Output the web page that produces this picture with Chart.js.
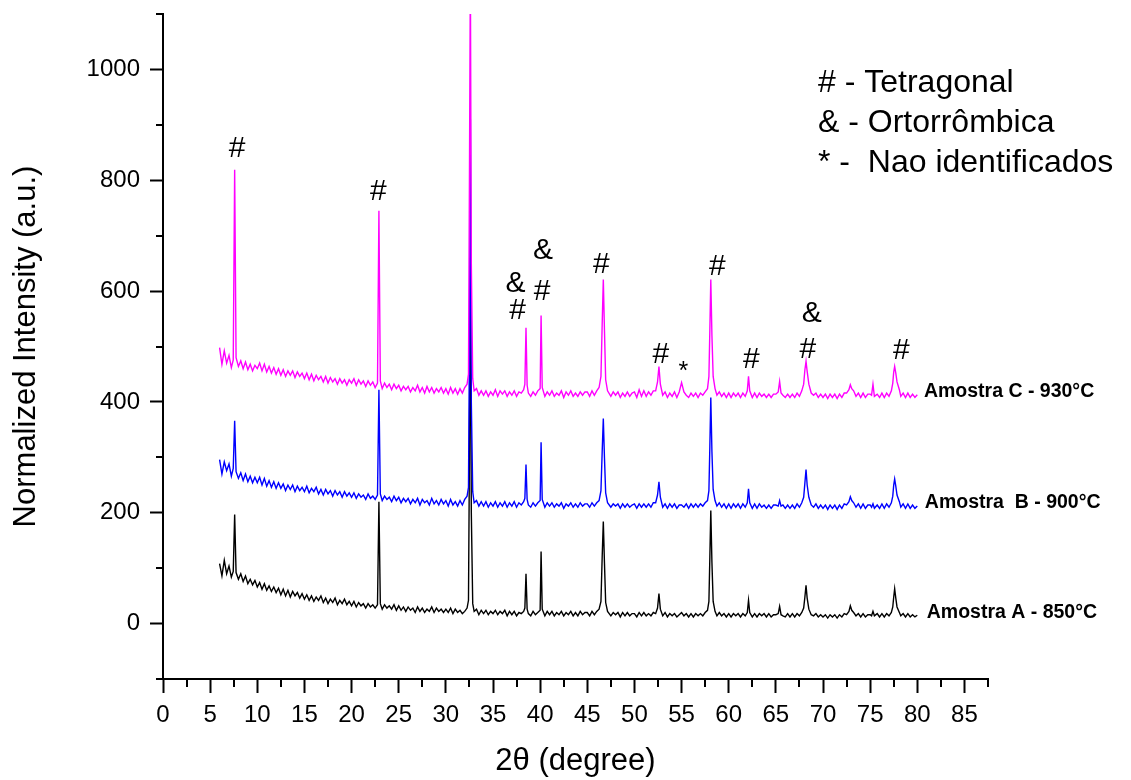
<!DOCTYPE html>
<html>
<head>
<meta charset="utf-8">
<script src="https://cdn.jsdelivr.net/npm/chart.js@4.4.1/dist/chart.umd.min.js"></script>
<style>
  body { margin: 0; background: #fff; }
</style>
</head>
<body>
<canvas id="xrd" width="1131" height="780"></canvas>
<script>
// 2theta positions shared by the three patterns (one row per 5 degrees)
const theta = [
  6.0, 6.25, 6.5, 6.75, 7.0, 7.25, 7.45, 7.6, 7.75, 8.0, 8.25, 8.5, 8.75, 9.0, 9.25, 9.5, 9.75,
  10, 10.25, 10.5, 10.75, 11, 11.25, 11.5, 11.75, 12, 12.25, 12.5, 12.75, 13, 13.25, 13.5, 13.75, 14, 14.25, 14.5, 14.75,
  15, 15.25, 15.5, 15.75, 16, 16.25, 16.5, 16.75, 17, 17.25, 17.5, 17.75, 18, 18.25, 18.5, 18.75, 19, 19.25, 19.5, 19.75,
  20, 20.25, 20.5, 20.75, 21, 21.25, 21.5, 21.75, 22, 22.25, 22.5, 22.75, 22.9, 23.05, 23.25, 23.5, 23.75, 24, 24.25, 24.5, 24.75,
  25, 25.25, 25.5, 25.75, 26, 26.25, 26.5, 26.75, 27, 27.25, 27.5, 27.75, 28, 28.25, 28.5, 28.75, 29, 29.25, 29.5, 29.75,
  30, 30.25, 30.5, 30.75, 31, 31.25, 31.5, 31.75, 32, 32.25, 32.4, 32.5, 32.6, 32.7, 32.85, 33, 33.25, 33.5, 33.75, 34, 34.25, 34.5, 34.75,
  35, 35.25, 35.5, 35.75, 36, 36.25, 36.5, 36.75, 37, 37.25, 37.5, 37.75, 38, 38.25, 38.38, 38.5, 38.62, 38.75, 39, 39.25, 39.5, 39.75,
  40, 40.1, 40.22, 40.5, 40.75, 41, 41.25, 41.5, 41.75, 42, 42.25, 42.5, 42.75, 43, 43.25, 43.5, 43.75, 44, 44.25, 44.5, 44.75,
  45, 45.25, 45.5, 45.75, 46, 46.25, 46.45, 46.58, 46.7, 46.82, 46.95, 47.15, 47.5, 47.75, 48, 48.25, 48.5, 48.75, 49, 49.25, 49.5, 49.75,
  50, 50.25, 50.5, 50.75, 51, 51.25, 51.5, 51.75, 52, 52.25, 52.45, 52.6, 52.75, 53, 53.25, 53.5, 53.75, 54, 54.25, 54.5, 54.75,
  55, 55.25, 55.5, 55.75, 56, 56.25, 56.5, 56.75, 57, 57.25, 57.5, 57.75, 57.9, 58.0, 58.1, 58.22, 58.35, 58.55, 58.75, 59, 59.25, 59.5, 59.75,
  60, 60.25, 60.5, 60.75, 61, 61.25, 61.5, 61.75, 61.97, 62.1, 62.23, 62.5, 62.75, 63, 63.25, 63.5, 63.75, 64, 64.25, 64.5, 64.75,
  65, 65.25, 65.4, 65.55, 65.75, 66, 66.25, 66.5, 66.75, 67, 67.25, 67.5, 67.75, 67.95, 68.08, 68.2, 68.32, 68.5, 68.75, 69, 69.25, 69.5, 69.75,
  70, 70.25, 70.5, 70.75, 71, 71.25, 71.5, 71.75, 72, 72.25, 72.5, 72.75, 72.9, 73.05, 73.25, 73.5, 73.75, 74, 74.25, 74.5, 74.75,
  75, 75.15, 75.3, 75.45, 75.75, 76, 76.25, 76.5, 76.75, 77, 77.25, 77.4, 77.5, 77.6, 77.72, 77.85, 78.1, 78.25, 78.5, 78.75, 79, 79.25, 79.5, 79.75, 80,
];

// Amostra A - 850°C (black)
const amostraA = [
  108, 86, 114, 90, 104, 84, 94, 197, 92, 80, 90, 76, 86, 72, 80, 70, 78,
  66, 74, 62, 72, 60, 68, 58, 66, 56, 64, 52, 62, 50, 60, 48, 58, 50, 56, 46, 54,
  44, 52, 42, 50, 40, 48, 42, 50, 38, 46, 36, 44, 38, 46, 34, 42, 36, 44, 34, 40,
  32, 40, 30, 38, 32, 36, 28, 36, 30, 34, 28, 34, 220, 36, 26, 34, 28, 32, 26, 34, 24,
  32, 24, 30, 22, 30, 24, 28, 20, 30, 22, 28, 20, 26, 22, 30, 20, 28, 22, 26, 20,
  26, 20, 28, 18, 26, 20, 24, 18, 22, 28, 42, 300, 660, 200, 36, 22, 26, 16, 24, 18, 24, 16, 22,
  18, 24, 16, 22, 18, 24, 14, 22, 16, 22, 14, 20, 18, 22, 28, 90, 26, 18, 14, 22, 16, 20,
  24, 130, 26, 14, 22, 16, 22, 14, 20, 16, 22, 14, 20, 16, 22, 14, 20, 14, 22, 16, 20,
  20, 14, 22, 16, 22, 26, 40, 120, 184, 110, 38, 22, 14, 20, 16, 20, 12, 20, 14, 20, 14, 18,
  18, 12, 20, 14, 20, 14, 18, 14, 20, 18, 28, 54, 26, 14, 20, 12, 18, 14, 18, 12, 16,
  20, 14, 18, 12, 18, 12, 18, 14, 18, 14, 20, 24, 40, 120, 204, 110, 40, 22, 14, 20, 14, 18, 12,
  18, 12, 18, 14, 18, 12, 18, 14, 20, 42, 20, 12, 18, 12, 18, 14, 18, 12, 18, 12, 16,
  16, 18, 31, 16, 14, 12, 18, 12, 18, 12, 18, 14, 20, 28, 48, 69, 46, 26, 16, 14, 18, 12, 16,
  12, 16, 10, 16, 12, 16, 10, 16, 12, 18, 16, 22, 32, 24, 20, 14, 18, 12, 18, 12, 16,
  16, 14, 22, 14, 18, 12, 18, 12, 18, 14, 20, 30, 48, 63, 46, 30, 20, 14, 18, 12, 18, 12, 16, 12, 15,
];

// Amostra B - 900°C (blue)
const amostraB = [
  296, 270, 292, 276, 288, 266, 280, 366, 274, 262, 272, 258, 270, 256, 266, 254, 264,
  254, 264, 250, 262, 248, 258, 246, 256, 244, 254, 244, 252, 240, 250, 242, 250, 238, 248, 240, 246,
  238, 248, 236, 244, 238, 246, 234, 242, 232, 242, 234, 240, 230, 240, 232, 238, 228, 238, 230, 236,
  228, 236, 226, 234, 228, 232, 224, 234, 226, 230, 224, 232, 422, 234, 222, 230, 224, 228, 220, 230, 222,
  228, 218, 226, 220, 226, 216, 224, 218, 226, 214, 224, 218, 222, 214, 226, 216, 222, 214, 224, 216,
  222, 212, 224, 214, 220, 212, 222, 214, 224, 230, 246, 500, 910, 400, 238, 218, 222, 212, 220, 212, 220, 210, 218,
  212, 220, 210, 218, 212, 220, 210, 218, 212, 220, 210, 218, 214, 220, 226, 287, 224, 214, 210, 218, 212, 218,
  222, 327, 224, 210, 218, 212, 218, 210, 216, 212, 218, 208, 216, 212, 218, 210, 216, 210, 218, 212, 216,
  216, 210, 218, 212, 218, 222, 240, 310, 370, 300, 236, 218, 210, 216, 212, 216, 208, 216, 210, 216, 210, 214,
  216, 208, 216, 210, 216, 210, 216, 210, 218, 218, 232, 256, 228, 210, 216, 208, 216, 210, 216, 208, 214,
  214, 210, 216, 208, 216, 210, 216, 210, 216, 212, 218, 222, 240, 320, 408, 310, 242, 222, 212, 218, 210, 216, 208,
  216, 208, 216, 210, 216, 208, 216, 210, 218, 243, 218, 208, 216, 208, 216, 210, 214, 208, 214, 208, 214,
  214, 212, 222, 212, 214, 208, 214, 208, 214, 208, 216, 210, 218, 228, 254, 278, 250, 228, 214, 210, 216, 208, 214,
  208, 214, 206, 214, 208, 214, 206, 214, 208, 216, 214, 220, 229, 222, 218, 210, 216, 208, 216, 208, 214,
  214, 210, 216, 208, 214, 208, 216, 208, 216, 210, 218, 230, 250, 261, 248, 232, 220, 210, 216, 208, 216, 208, 214, 208, 212,
];

// Amostra C - 930°C (magenta)
const amostraC = [
  498, 468, 492, 470, 484, 462, 476, 819, 480, 464, 474, 460, 472, 458, 468, 456, 466,
  460, 470, 456, 468, 454, 464, 452, 462, 450, 460, 448, 458, 446, 456, 448, 456, 444, 454, 446, 452,
  442, 452, 440, 450, 438, 448, 440, 446, 436, 446, 434, 444, 436, 442, 432, 442, 434, 440, 430, 440,
  434, 442, 430, 440, 432, 438, 428, 438, 430, 436, 426, 434, 745, 438, 424, 434, 426, 432, 422, 432, 424,
  430, 420, 428, 422, 428, 418, 426, 420, 430, 418, 426, 416, 428, 418, 426, 416, 424, 418, 426, 416,
  424, 414, 426, 416, 424, 414, 424, 416, 426, 432, 450, 800, 1180, 650, 442, 420, 424, 412, 420, 412, 420, 410, 418,
  412, 422, 410, 420, 414, 420, 410, 418, 412, 420, 410, 418, 416, 422, 432, 534, 430, 416, 410, 418, 412, 420,
  424, 556, 426, 410, 418, 412, 420, 410, 416, 412, 420, 408, 418, 412, 420, 410, 416, 410, 418, 412, 418,
  418, 410, 420, 412, 420, 426, 446, 540, 621, 530, 440, 420, 410, 418, 412, 418, 408, 416, 410, 418, 410, 416,
  418, 408, 422, 410, 420, 410, 418, 412, 420, 420, 436, 464, 432, 412, 418, 408, 416, 410, 418, 408, 418,
  435, 418, 412, 408, 416, 410, 416, 408, 416, 412, 418, 424, 446, 530, 621, 520, 446, 424, 412, 418, 410, 416, 408,
  416, 408, 416, 410, 416, 408, 416, 410, 420, 446, 420, 408, 416, 408, 416, 410, 414, 408, 414, 408, 414,
  414, 418, 437, 416, 412, 408, 414, 408, 414, 408, 416, 410, 420, 432, 458, 473, 455, 432, 416, 412, 416, 408, 414,
  408, 414, 406, 414, 408, 414, 406, 414, 408, 416, 416, 422, 431, 424, 420, 410, 416, 408, 416, 408, 414,
  414, 412, 432, 410, 414, 408, 416, 408, 416, 410, 420, 434, 454, 464, 452, 436, 422, 410, 416, 408, 416, 408, 414, 408, 413,
];

const seriesNames = ['Amostra A - 850°C', 'Amostra  B - 900°C', 'Amostra C - 930°C'];
const seriesLabelTheta = [81, 80.8, 80.7];
const seriesLabelLevel = [20, 218, 419];

const xTicks = [0, 5, 10, 15, 20, 25, 30, 35, 40, 45, 50, 55, 60, 65, 70, 75, 80, 85];
const yTicks = [0, 200, 400, 600, 800, 1000];

// phase marks above the peaks of Amostra C
const markText = ['#', '#', '&', '#', '&', '#', '#', '#', '*', '#', '#', '&', '#', '#'];
const markTheta = [7.85, 22.85, 37.4, 37.6, 40.3, 40.2, 46.5, 52.8, 55.2, 58.8, 62.4, 68.8, 68.4, 78.3];
const markLevel = [857, 779, 614, 565, 672, 599, 648, 486, 464, 644, 476, 559, 495, 492];

const legendLines = ['# - Tetragonal', '& - Ortorrômbica', '* -  Nao identificados'];

[amostraA, amostraB, amostraC].forEach((s, i) => {
  if (s.length !== theta.length) throw new Error('series ' + i + ' has ' + s.length + ' values, theta has ' + theta.length);
});

const pairs = (ys) => theta.map((t, i) => ({ x: t, y: ys[i] }));
const font = 'Liberation Sans, Arial, sans-serif';

const annotate = {
  id: 'annotate',
  afterDraw(chart) {
    const { ctx, chartArea } = chart;
    const { x, y } = chart.scales;
    ctx.save();

    // minor ticks
    ctx.strokeStyle = '#000';
    ctx.lineWidth = 2;
    ctx.beginPath();
    for (let v = 2.5; v <= 87.5; v += 5) {
      const px = Math.round(x.getPixelForValue(v));
      ctx.moveTo(px, chartArea.bottom);
      ctx.lineTo(px, chartArea.bottom + 8);
    }
    for (let v = -100; v <= 1100; v += 200) {
      const py = Math.round(y.getPixelForValue(v));
      ctx.moveTo(chartArea.left, py);
      ctx.lineTo(chartArea.left - 7, py);
    }
    ctx.stroke();

    ctx.fillStyle = '#000';
    ctx.textAlign = 'center';
    ctx.textBaseline = 'middle';
    markText.forEach((t, i) => {
      const size = t === '*' ? 25 : 30;
      const dy = t === '*' ? 6 : 0;
      ctx.font = size + 'px ' + font;
      ctx.fillText(t, x.getPixelForValue(markTheta[i]), y.getPixelForValue(markLevel[i]) + dy);
    });

    ctx.textAlign = 'left';
    ctx.font = 'bold 19.5px ' + font;
    seriesNames.forEach((name, i) => {
      ctx.fillText(name, x.getPixelForValue(seriesLabelTheta[i]), y.getPixelForValue(seriesLabelLevel[i]));
    });

    ctx.font = '32px ' + font;
    legendLines.forEach((line, i) => {
      ctx.fillText(line, 818, 83 + i * 40);
    });
    ctx.restore();
  },
};

new Chart(document.getElementById('xrd'), {
  type: 'line',
  data: {
    datasets: [
      { label: seriesNames[2], data: pairs(amostraC), borderColor: '#ff00ff' },
      { label: seriesNames[1], data: pairs(amostraB), borderColor: '#0000ff' },
      { label: seriesNames[0], data: pairs(amostraA), borderColor: '#000000' },
    ],
  },
  options: {
    responsive: false,
    animation: false,
    layout: { padding: { top: 14, right: 143, bottom: 0, left: 0 } },
    elements: {
      point: { radius: 0 },
      line: { borderWidth: 1.4, tension: 0 },
    },
    plugins: { legend: { display: false }, tooltip: { enabled: false } },
    scales: {
      x: {
        type: 'linear',
        min: 0,
        max: 87.5,
        afterBuildTicks: (s) => { s.ticks = xTicks.map((v) => ({ value: v })); },
        afterFit: (s) => { s.height = 101; s.paddingLeft = 0; s.paddingRight = 0; },
        grid: { drawOnChartArea: false, tickLength: 14, tickWidth: 2, tickColor: '#000' },
        border: { color: '#000', width: 2 },
        ticks: {
          color: '#000', padding: 8, maxRotation: 0, autoSkip: false,
          font: { family: font, size: 24 },
          callback: (v) => String(v),
        },
        title: {
          display: true, text: '2θ (degree)', color: '#000', padding: { top: -4, bottom: 0 },
          font: { family: font, size: 31 },
        },
      },
      y: {
        min: -100,
        max: 1100,
        afterBuildTicks: (s) => { s.ticks = yTicks.map((v) => ({ value: v })); },
        afterFit: (s) => { s.width = 163; s.paddingTop = 0; s.paddingBottom = 0; },
        grid: { drawOnChartArea: false, tickLength: 13, tickWidth: 2, tickColor: '#000' },
        border: { color: '#000', width: 2 },
        ticks: {
          color: '#000', padding: 10,
          font: { family: font, size: 24 },
          callback: (v) => String(v),
        },
        title: {
          display: true, text: 'Normalized Intensity (a.u.)', color: '#000', padding: { top: 8, bottom: 0 },
          font: { family: font, size: 31 },
        },
      },
    },
  },
  plugins: [annotate],
});
</script>
</body>
</html>
